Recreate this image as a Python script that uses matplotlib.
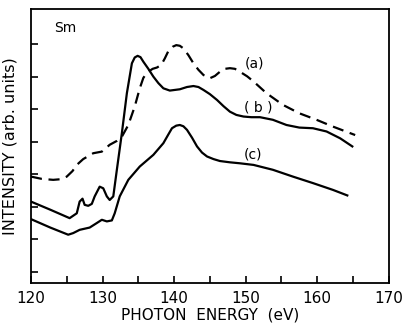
import numpy as np
import matplotlib.pyplot as plt

# courbe (a), tiretée
energie_a = [120, 121.5, 123.1, 124.2, 125, 125.8, 126.4, 127.3, 128.7, 129.9, 131,
             132, 132.7, 133.6, 134.5, 135.2, 135.7, 136.2, 137, 137.6, 138.2,
             138.7, 139.2, 139.8, 140.3, 140.8, 141.3, 142, 142.7, 143.4, 144.1,
             145, 145.7, 146.4, 147.1, 147.8, 148.5, 149.2, 150.2, 151.1, 152.9,
             155.2, 157.5, 159.9, 162.2, 165.3]
intens_a = [3.28, 3.21, 3.18, 3.2, 3.28, 3.45, 3.64, 3.82, 4.0, 4.05, 4.26,
            4.38, 4.51, 4.87, 5.44, 6.0, 6.32, 6.48, 6.6, 6.64, 6.72,
            6.92, 7.15, 7.28, 7.33, 7.31, 7.23, 7.02, 6.77, 6.57, 6.41,
            6.31, 6.38, 6.51, 6.6, 6.62, 6.6, 6.51, 6.37, 6.21, 5.85,
            5.49, 5.23, 5.03, 4.82, 4.56]

# courbe (b)
energie_b = [120, 122.7, 125.4, 126.4, 126.8, 127.2, 127.5, 128, 128.5, 128.9, 129.6,
             130.1, 130.6, 131, 131.5, 132, 132.7, 133.4, 134.1, 134.5, 134.9,
             135.3, 135.7, 136.4, 137.1, 137.8, 138.5, 139.4, 140.8, 141.8, 142.7,
             143.4, 144.1, 145, 146, 146.9, 147.8, 148.7, 149.7, 150.8, 152,
             153.8, 155.7, 157.5, 159.4, 161.3, 163.2, 164.9]
intens_b = [2.51, 2.26, 2.0, 2.15, 2.51, 2.6, 2.41, 2.38, 2.44, 2.67, 2.97,
            2.92, 2.67, 2.56, 2.67, 3.49, 4.62, 5.85, 6.77, 6.95, 7.0,
            6.96, 6.82, 6.6, 6.36, 6.16, 6.0, 5.93, 5.97, 6.04, 6.07,
            6.04, 5.95, 5.82, 5.64, 5.45, 5.28, 5.18, 5.13, 5.11, 5.11,
            5.03, 4.87, 4.79, 4.77, 4.67, 4.46, 4.21]

# courbe (c)
energie_c = [120, 122.7, 125.2, 125.9, 126.8, 128.2, 129.2, 129.9, 130.6, 131.3, 131.7,
             132.4, 133.6, 135.2, 137.1, 138.5, 139.2, 139.7, 140.3, 140.8, 141.3,
             141.8, 142.5, 143.2, 143.9, 144.6, 145.5, 146.4, 147.8, 149.2, 151.1,
             153.8, 156.6, 159.4, 162.2, 164.2]
intens_c = [1.97, 1.71, 1.49, 1.54, 1.64, 1.71, 1.85, 1.95, 1.9, 1.93, 2.15,
            2.67, 3.18, 3.59, 3.95, 4.31, 4.58, 4.77, 4.85, 4.87, 4.83,
            4.72, 4.48, 4.21, 4.02, 3.9, 3.82, 3.76, 3.72, 3.69, 3.64,
            3.49, 3.28, 3.08, 2.87, 2.7]

x_ticks = np.arange(120, 171, 10)
x_minor = np.arange(125, 170, 10)
y_ticks = np.arange(0.35, 8, 1)

fig = plt.figure(figsize=(4.05, 3.25), dpi=100)
ax = fig.add_axes([0.0765, 0.129, 0.8835, 0.843])

ax.plot(energie_a, intens_a, color='black', lw=1.6, ls=(0, (5, 3)))
ax.plot(energie_b, intens_b, color='black', lw=1.6)
ax.plot(energie_c, intens_c, color='black', lw=1.6)

ax.text(151.3, 6.77, '(a)', fontsize=10, ha='center', va='center')
ax.text(151.8, 5.4, '( b )', fontsize=10, ha='center', va='center')
ax.text(151, 3.95, '(c)', fontsize=10, ha='center', va='center')
ax.text(124.8, 7.85, 'Sm', fontsize=10, ha='center', va='center')

ax.set_xlim(120, 170)
ax.set_ylim(0, 8.44)
ax.set_xticks(x_ticks)
ax.set_xticks(x_minor, minor=True)
ax.set_yticks(y_ticks)
ax.set_yticklabels([])
ax.tick_params(direction='in', length=5, width=1.2, labelsize=11, pad=6)
ax.tick_params(which='minor', direction='in', length=5, width=1.2)
for s in ax.spines.values():
    s.set_linewidth(1.3)

ax.set_xlabel('PHOTON  ENERGY  (eV)', fontsize=11, labelpad=1)
ax.set_ylabel('INTENSITY (arb. units)', fontsize=11.5, labelpad=4)

fig.savefig('out.png', dpi=100)
